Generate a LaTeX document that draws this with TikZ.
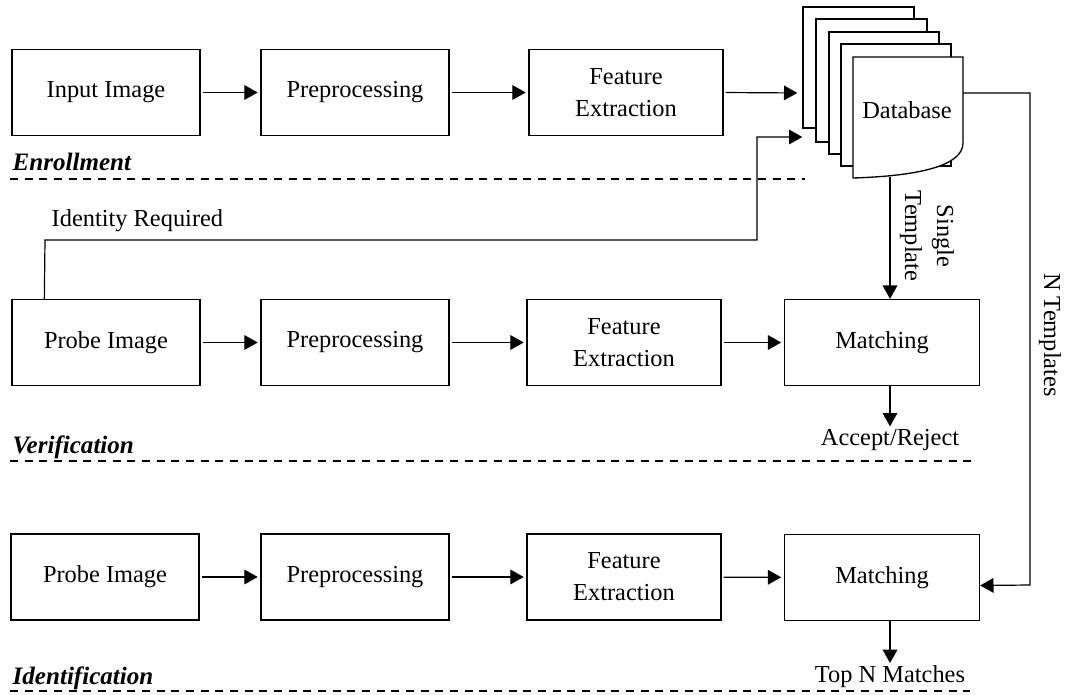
\documentclass[tikz,border=0pt]{standalone}
\usepackage{fontspec}
\setmainfont{Liberation Serif}
\usetikzlibrary{arrows.meta,calc}
\begin{document}
\begin{tikzpicture}[x=0.75pt,y=-0.75pt,
  font=\fontsize{18.3}{24}\selectfont,
  stage/.style={draw, line width=1pt, align=center, inner sep=0pt, minimum height=64.5pt},
  flow/.style={line width=0.9pt, -{Triangle[length=10pt,width=11pt]}, shorten <=1.5pt, shorten >=2pt},
  sheet/.style={draw, line width=1pt, fill=white},
  sep/.style={line width=0.8pt, dash pattern=on 6pt off 5pt},
  phase/.style={font=\fontsize{18.8}{24}\selectfont\bfseries\itshape, anchor=base west},
  caption/.style={inner sep=2pt}]
\useasboundingbox (0,0) rectangle (1067,695);

% enrollment row
\node[stage, minimum width=141pt]    (in1)  at (106,92.5) {Input Image};
\node[stage, minimum width=141pt]    (pre1) at (355,92.5) {Preprocessing};
\node[stage, minimum width=145.5pt]  (fe1)  at (626,92.5) {Feature\\Extraction};

% template database: stacked sheets
\draw[sheet] (803,7)   rectangle (914,128);
\draw[sheet] (816,19)  rectangle (927,142);
\draw[sheet] (829,32)  rectangle (939,154);
\draw[sheet] (841,44)  rectangle (951,166);
\draw[sheet] (853,57) -- (963,57) -- (963,143)
  .. controls (963,166) and (918,176) .. (853,178) -- cycle;
\node (db) at (907,110) {Database};
\coordinate (dbin)   at (800,93);
\coordinate (dbin2)  at (805,137);
\coordinate (dbout)  at (963,93);
\coordinate (dbfoot) at (890,177.5);

\draw[flow] (in1) -- (pre1);
\draw[flow] (pre1) -- (fe1);
\draw[flow] (fe1.east) -- (dbin);

% verification row
\node[stage, minimum width=141pt]    (probe2) at (106,342.5) {Probe Image};
\node[stage, minimum width=141pt]    (pre2)   at (355,342.5) {Preprocessing};
\node[stage, minimum width=145.5pt]  (fe2)    at (624,342.5) {Feature\\Extraction};
\node[stage, minimum width=146.25pt] (match2) at (882,342.5) {Matching};

\draw[flow] (probe2) -- (pre2);
\draw[flow] (pre2) -- (fe2);
\draw[flow] (fe2) -- (match2);

\node[anchor=base west] (idreq) at (47,227) {Identity Required};
\draw[flow, shorten <=0pt] ([xshift=24.75pt]probe2.north west) -- (45,240) -- (757,240) -- (757,137) -- (dbin2);

\draw[flow, shorten <=0pt, shorten >=0pt] (dbfoot) -- (dbfoot |- match2.north);
\node[rotate=-90, align=center] (single) at (927,236) {Single\\Template};

\node[caption] (accept) at (890,440) {Accept/Reject};
\draw[flow, shorten <=0pt, shorten >=0pt] (match2.south -| accept.north) -- (accept);

% identification row
\node[stage, minimum width=141pt]    (probe3) at (105,577) {Probe Image};
\node[stage, minimum width=141pt]    (pre3)   at (355,577) {Preprocessing};
\node[stage, minimum width=145.5pt]  (fe3)    at (624,577) {Feature\\Extraction};
\node[stage, minimum width=146.25pt] (match3) at (882,577.5) {Matching};

\draw[flow] (probe3) -- (pre3);
\draw[flow] (pre3) -- (fe3);
\draw[flow] (fe3) -- (match3);

\draw[flow, shorten <=0pt, shorten >=0pt] (dbout) -- (1030,93) -- (1030,585) -- ([yshift=-6pt]match3.east);
\node[rotate=-90] (ntl) at (1050,335) {N Templates};

\node[caption] (topn) at (890,677) {Top N Matches};
\draw[flow, shorten <=0pt, shorten >=0pt] (match3.south -| topn.north) -- (topn);

% phase labels and separators
\node[phase] (enr) at (8,171) {Enrollment};
\node[phase] (ver) at (8,453) {Verification};
\node[phase] (idf) at (8,684) {Identification};
\draw[sep] (10,179) -- (805,179);
\draw[sep] (10,461) -- (973,461);
\draw[sep] (10,691) -- (970,691);
\end{tikzpicture}
\end{document}
